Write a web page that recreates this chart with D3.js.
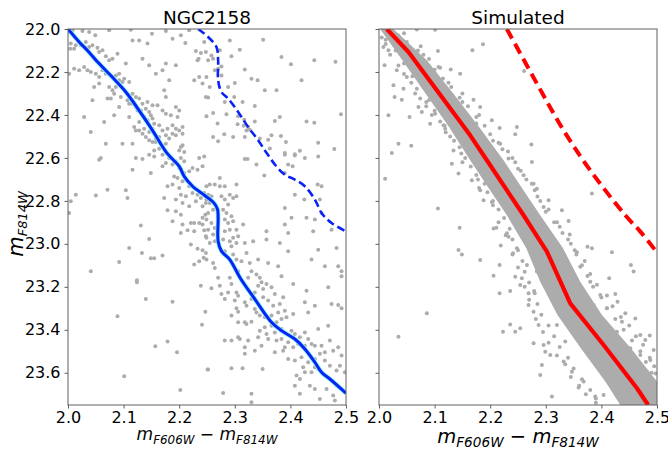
<!DOCTYPE html>
<html><head><meta charset="utf-8">
<script src="https://cdn.jsdelivr.net/npm/d3@7"></script>
<style>
body{margin:0;background:#fff}
text{font-family:"DejaVu Sans",sans-serif;white-space:pre}
</style>
</head><body>
<svg id="c" width="668" height="450"></svg>
<script>
// ---------------- data ----------------
const xTicks = [2.0, 2.1, 2.2, 2.3, 2.4, 2.5];
const yTicks = [22.0, 22.2, 22.4, 22.6, 22.8, 23.0, 23.2, 23.4, 23.6];
const xDomain = [2.0, 2.5];
const yDomain = [22.0, 23.75];
const titles = ["NGC2158", "Simulated"];

// observed fiducial (single stars)
const obsFidColor = [2.000,2.020,2.035,2.056,2.080,2.104,2.134,2.152,2.178,2.200,2.209,2.224,2.246,2.262,2.269,2.270,2.270,2.276,2.291,2.310,2.336,2.366,2.384,2.408,2.426,2.444,2.456,2.471,2.500];
const obsFidMag   = [22.000,22.060,22.100,22.161,22.225,22.293,22.402,22.472,22.578,22.639,22.686,22.732,22.775,22.808,22.840,22.880,22.988,23.034,23.073,23.160,23.257,23.365,23.404,23.443,23.489,23.551,23.598,23.629,23.695];
// observed equal-mass binary sequence
const obsBinColor = [2.234,2.252,2.267,2.270,2.270,2.276,2.288,2.306,2.324,2.342,2.358,2.375,2.390,2.408,2.426,2.444,2.456,2.474,2.500];
const obsBinMag   = [22.000,22.037,22.084,22.146,22.239,22.293,22.324,22.386,22.456,22.518,22.580,22.640,22.678,22.701,22.732,22.794,22.856,22.903,22.942];
// simulated fiducial
const simFidColor = [2.014,2.053,2.104,2.164,2.194,2.260,2.302,2.344,2.404,2.464,2.484];
const simFidMag   = [22.000,22.107,22.285,22.495,22.611,22.867,23.036,23.277,23.471,23.672,23.750];
// simulated binary sequence
const simBinColor = [2.230,2.284,2.332,2.380,2.443,2.470,2.500];
const simBinMag   = [22.000,22.254,22.472,22.658,22.867,22.943,23.040];
// simulated dense core (edges of the solid band)
const simBandMag  = [22.000,22.146,22.301,22.456,22.611,22.767,22.867,23.021,23.176,23.331,23.486,23.641,23.750];
const simBandBlue = [2.002,2.042,2.084,2.126,2.164,2.204,2.230,2.265,2.290,2.321,2.363,2.407,2.434];
const simBandRed  = [2.026,2.086,2.134,2.180,2.224,2.264,2.290,2.331,2.362,2.401,2.453,2.500,2.500];

// observed stars [colour, magnitude]
const obsStars = [
[2.002,22.014],[2.008,22.006],[2.026,22.009],[2.038,22.014],[2.049,22.029],[2.074,22.006],[2.113,22.003],[2.151,22.022],[2.176,22.009],[2.188,22.045],[2.211,22.065],[2.230,22.102],[2.239,22.112],[2.245,22.061],[2.248,22.107],[2.235,22.138],
[2.005,22.068],[2.004,22.092],[2.011,22.092],[2.014,22.076],[2.023,22.076],[2.029,22.084],[2.032,22.061],[2.038,22.084],[2.044,22.076],[2.053,22.087],[2.056,22.107],[2.062,22.099],[2.068,22.127],[2.074,22.146],[2.080,22.138],[2.089,22.115],[2.104,22.161],[2.134,22.138],[2.116,22.053],[2.128,22.053],[2.143,22.068],[2.203,22.029],[2.218,22.006],[2.233,22.146],[2.236,22.223],[2.242,22.254],[2.227,22.239],[2.248,22.316],
[2.011,22.185],[2.020,22.192],[2.002,22.208],[2.029,22.177],[2.035,22.192],[2.041,22.200],[2.050,22.208],[2.056,22.223],[2.062,22.192],[2.068,22.208],[2.074,22.208],[2.080,22.223],[2.086,22.216],[2.092,22.239],[2.098,22.247],[2.101,22.231],[2.092,22.208],[2.110,22.247],[2.086,22.270],[2.080,22.285],[2.083,22.301],[2.074,22.270],[2.071,22.324],[2.077,22.324],[2.095,22.316],[2.107,22.332],[2.110,22.348],[2.116,22.348],[2.122,22.363],[2.125,22.379],[2.131,22.379],[2.140,22.371],[2.146,22.386],[2.149,22.402],[2.152,22.417],[2.137,22.410],[2.143,22.425],[2.128,22.433],[2.119,22.456],[2.122,22.472],[2.128,22.472],[2.137,22.464],[2.134,22.487],[2.140,22.503],[2.146,22.518],[2.152,22.526],[2.158,22.510],[2.164,22.503],[2.176,22.495],[2.182,22.510],[2.188,22.487],[2.194,22.464],[2.200,22.472],[2.206,22.487],[2.194,22.495],[2.203,22.549],[2.206,22.541],[2.200,22.565],[2.209,22.572],[2.164,22.557],[2.155,22.565],[2.158,22.526],[2.176,22.534],[2.170,22.549],[2.116,22.534],[2.098,22.534],[2.068,22.534],[2.041,22.479],[2.029,22.410],[2.065,22.433],[2.083,22.402],[2.110,22.410],[2.092,22.363],[2.044,22.332],[2.056,22.254],[2.047,22.270],[2.173,22.285],[2.176,22.316],[2.194,22.363],[2.200,22.379],[2.185,22.402],[2.197,22.410],[2.188,22.448],[2.206,22.456],[2.158,22.208],[2.170,22.192],[2.176,22.161],[2.194,22.169],[2.146,22.169],[2.182,22.239],[2.116,22.301],[2.122,22.316],[2.128,22.324],[2.134,22.348],[2.143,22.340],[2.152,22.355],[2.161,22.355],[2.170,22.379],[2.176,22.394],[2.155,22.441],[2.164,22.448],[2.170,22.472],[2.179,22.464],[2.152,22.464],[2.146,22.479],
[2.291,22.053],[2.351,22.050],[2.309,22.096],[2.294,22.127],[2.273,22.099],[2.258,22.123],[2.252,22.146],[2.261,22.138],[2.264,22.192],[2.276,22.174],[2.270,22.185],[2.249,22.223],[2.276,22.216],[2.318,22.189],[2.330,22.231],[2.341,22.239],[2.384,22.130],[2.401,22.164],[2.443,22.146],[2.481,22.152],[2.420,22.239],[2.354,22.285],[2.375,22.285],[2.255,22.270],[2.288,22.270],[2.300,22.251],[2.252,22.319],[2.282,22.340],[2.299,22.316],[2.314,22.340],[2.336,22.358],[2.249,22.406],[2.261,22.391],[2.285,22.397],[2.306,22.406],[2.317,22.422],[2.269,22.440],[2.305,22.443],[2.316,22.450],[2.324,22.456],[2.336,22.431],[2.372,22.428],[2.381,22.409],[2.429,22.431],[2.443,22.436],[2.491,22.397],[2.261,22.503],[2.281,22.490],[2.297,22.503],[2.318,22.503],[2.270,22.523],[2.321,22.472],[2.327,22.469],[2.345,22.510],[2.360,22.515],[2.366,22.495],[2.383,22.498],[2.392,22.526],[2.450,22.530],[2.479,22.558],[2.390,22.577],[2.408,22.583],[2.417,22.567],[2.363,22.556],
[2.059,22.600],[2.056,22.608],[2.122,22.600],[2.134,22.605],[2.146,22.585],[2.155,22.593],[2.170,22.585],[2.182,22.600],[2.116,22.655],[2.149,22.670],[2.170,22.639],[2.176,22.624],[2.188,22.631],[2.194,22.616],[2.203,22.600],[2.209,22.616],[2.200,22.647],[2.209,22.670],[2.218,22.662],[2.224,22.647],[2.233,22.655],[2.242,22.639],[2.236,22.600],[2.245,22.593],[2.191,22.686],[2.197,22.693],[2.206,22.709],[2.179,22.732],[2.188,22.724],[2.200,22.740],[2.218,22.732],[2.224,22.763],[2.233,22.771],[2.239,22.786],[2.245,22.763],[2.203,22.771],[2.212,22.779],[2.194,22.794],[2.206,22.810],[2.218,22.825],[2.230,22.802],[2.242,22.825],[2.248,22.810],[2.014,22.771],[2.005,22.802],[2.002,22.856],[2.050,22.775],[2.071,22.748],[2.104,22.751],[2.107,22.786],[2.173,22.786],[2.179,22.844],[2.194,22.848],[2.188,22.895],[2.206,22.910],[2.203,22.949],[2.221,22.903],[2.227,22.903],[2.236,22.903],[2.242,22.910],[2.215,22.937],[2.227,22.941],[2.245,22.937],[2.248,22.965],[2.131,22.915],[2.146,22.977],[2.221,23.003],[2.233,23.023],[2.242,23.030],[2.248,23.042],[2.244,23.065],[2.236,23.081],[2.227,23.096],[2.110,23.019],[2.133,23.042],[2.149,23.067],[2.155,23.067],[2.170,23.054],[2.092,23.085],[2.041,23.127],[2.124,23.169],[2.247,22.864],[2.242,22.879],[2.203,22.864],
[2.318,22.605],[2.323,22.605],[2.339,22.631],[2.353,22.682],[2.390,22.585],[2.396,22.631],[2.404,22.639],[2.390,22.670],[2.408,22.589],[2.426,22.600],[2.450,22.593],[2.249,22.732],[2.255,22.724],[2.264,22.724],[2.273,22.732],[2.282,22.732],[2.303,22.724],[2.273,22.693],[2.252,22.771],[2.258,22.779],[2.249,22.794],[2.255,22.810],[2.276,22.779],[2.282,22.794],[2.291,22.771],[2.297,22.786],[2.303,22.779],[2.288,22.817],[2.279,22.841],[2.285,22.856],[2.294,22.872],[2.282,22.887],[2.288,22.903],[2.297,22.895],[2.261,22.841],[2.252,22.856],[2.249,22.887],[2.258,22.903],[2.264,22.926],[2.252,22.934],[2.261,22.957],[2.249,22.972],[2.255,22.996],[2.264,22.988],[2.282,22.941],[2.291,22.934],[2.303,22.934],[2.306,22.965],[2.297,22.972],[2.315,22.910],[2.279,22.980],[2.291,22.988],[2.294,23.011],[2.303,22.996],[2.282,23.034],[2.285,23.058],[2.297,23.050],[2.303,23.073],[2.312,23.081],[2.321,23.042],[2.318,22.996],[2.333,22.988],[2.357,22.941],[2.357,22.980],[2.381,22.996],[2.396,23.034],[2.360,23.089],[2.378,23.104],[2.384,23.151],[2.339,23.143],[2.345,23.158],[2.324,23.158],[2.261,23.089],[2.264,23.112],[2.249,23.073],[2.270,23.158],[2.291,23.158],[2.306,23.127],[2.327,23.089],[2.342,23.073],[2.330,23.127],[2.390,22.833],[2.408,22.771],[2.425,22.794],[2.449,22.724],[2.456,22.732],[2.453,22.794],[2.456,22.856],[2.444,22.887],[2.429,22.879],[2.441,22.941],[2.402,22.879],[2.390,22.910],[2.396,22.949],[2.474,22.934],[2.483,23.019],[2.462,23.104],[2.486,23.104],[2.492,23.127],[2.438,23.073],[2.450,23.027],[2.492,23.151],
[2.124,23.179],[2.140,23.257],[2.188,23.269],[2.239,23.195],[2.247,23.316],[2.241,23.376],[2.089,23.337],[2.179,23.455],[2.157,23.477],[2.196,23.505],[2.101,23.616],[2.202,23.680],[2.251,23.585],
[2.258,23.207],[2.273,23.195],[2.276,23.233],[2.288,23.226],[2.294,23.187],[2.303,23.226],[2.306,23.241],[2.282,23.257],[2.300,23.264],[2.318,23.272],[2.321,23.288],[2.330,23.257],[2.336,23.226],[2.342,23.195],[2.348,23.179],[2.351,23.210],[2.357,23.187],[2.366,23.202],[2.372,23.233],[2.351,23.249],[2.360,23.264],[2.369,23.288],[2.381,23.280],[2.387,23.249],[2.405,23.187],[2.390,23.311],[2.336,23.303],[2.339,23.319],[2.345,23.334],[2.354,23.342],[2.366,23.334],[2.378,23.319],[2.375,23.365],[2.384,23.350],[2.393,23.342],[2.405,23.326],[2.366,23.381],[2.354,23.388],[2.345,23.404],[2.357,23.419],[2.372,23.412],[2.384,23.396],[2.402,23.404],[2.408,23.419],[2.417,23.435],[2.426,23.412],[2.432,23.443],[2.438,23.466],[2.444,23.474],[2.426,23.474],[2.414,23.466],[2.405,23.481],[2.396,23.458],[2.384,23.443],[2.390,23.481],[2.375,23.450],[2.360,23.443],[2.342,23.435],[2.324,23.450],[2.309,23.443],[2.294,23.450],[2.321,23.373],[2.306,23.365],[2.318,23.365],[2.330,23.362],[2.303,23.300],[2.306,23.316],[2.294,23.334],[2.468,23.202],[2.474,23.280],[2.486,23.285],[2.492,23.300],[2.429,23.218],[2.426,23.272],[2.444,23.288],[2.432,23.319],[2.450,23.396],[2.468,23.381],[2.471,23.450],[2.486,23.481],[2.477,23.497],[2.492,23.520],[2.489,23.567],[2.498,23.598],[2.483,23.590],[2.471,23.567],[2.462,23.543],[2.453,23.512],[2.444,23.536],[2.456,23.474],[2.462,23.505],[2.450,23.582],[2.462,23.613],[2.474,23.636],[2.483,23.660],[2.492,23.675],[2.477,23.706],[2.465,23.675],[2.453,23.722],[2.444,23.675],[2.435,23.660],[2.426,23.598],[2.417,23.629],[2.411,23.613],[2.408,23.543],[2.420,23.528],[2.432,23.551],[2.444,23.574],[2.438,23.598],[2.423,23.574],[2.408,23.660],[2.417,23.698],[2.387,23.497],[2.318,23.481],[2.318,23.512],[2.252,23.585],[2.294,23.579],[2.314,23.579],[2.350,23.582],[2.279,23.694],[2.330,23.698],[2.330,23.737],[2.396,23.536],[2.372,23.505],[2.336,23.497],[2.348,23.474],[2.306,23.435],[2.282,23.450],[2.480,23.729]
];

// simulated stars outside / on the fringe of the dense core [colour, magnitude]
const simStars = [
[2.101,22.003],[2.068,22.002],[2.187,22.071],[2.168,22.099],[2.106,22.102],[2.261,22.195],[2.010,22.169],[2.026,22.262],[2.028,22.316],[2.041,22.329],[2.017,22.402],[2.055,22.410],[2.071,22.363],[2.092,22.441],[2.035,22.534],[2.058,22.543],[2.023,22.577],[2.011,22.697],[2.106,22.836],[2.383,22.766],[2.274,22.537],[2.245,22.490],[2.217,22.461],[2.203,22.425],[2.182,22.363],[2.170,22.329],[2.146,22.208],[2.129,22.189],[2.107,22.177],[2.089,22.231],[2.077,22.386],[2.074,22.324],[2.119,22.464],[2.131,22.627],[2.143,22.673],[2.167,22.704],[2.182,22.751],[2.188,22.797],[2.203,22.805],[2.275,22.619],[2.284,22.743],[2.305,22.797],[2.329,22.844],[2.248,22.456],[2.296,22.828],[2.278,22.720],[2.260,22.681],[2.233,22.603],[2.218,22.534],[2.182,22.565],[2.152,22.518],[2.134,22.565],[2.116,22.448],[2.101,22.394],[2.085,22.340],[2.068,22.278],[2.050,22.223],[2.032,22.192],[2.017,22.099],[2.008,22.084],[2.044,22.278],[2.056,22.146],
[2.145,22.925],[2.143,23.029],[2.149,23.049],[2.182,23.075],[2.206,22.928],[2.211,22.925],[2.219,23.008],[2.230,22.951],[2.233,22.967],[2.241,23.044],[2.217,23.098],[2.206,23.148],[2.217,23.230],[2.236,23.219],[2.223,23.409],[2.236,23.375],[2.245,23.153],[2.254,23.191],[2.257,23.160],[2.269,23.230],[2.279,23.219],[2.287,23.378],[2.278,23.463],[2.296,23.471],[2.299,23.502],[2.308,23.517],[2.293,23.564],[2.290,23.610],[2.311,23.711],[2.359,23.669],[2.389,23.711],[2.320,22.900],[2.341,22.894],[2.343,22.956],[2.356,23.039],[2.375,23.013],[2.383,23.021],[2.419,23.039],[2.453,23.098],[2.458,23.129],[2.414,23.160],[2.425,23.233],[2.429,23.269],[2.443,23.323],[2.437,23.362],[2.461,23.347],[2.470,23.424],[2.487,23.427],[2.479,23.447],[2.488,23.540],[2.494,23.494],[2.497,23.603],[2.086,23.323],[2.035,23.432],[2.245,23.409],[2.254,23.393],[2.332,23.548],[2.347,23.595],[2.368,23.641],[2.404,23.703],[2.335,23.455],[2.320,23.378],[2.278,23.316],[2.269,23.285],[2.284,23.129],[2.266,23.098],[2.248,23.021],[2.362,23.106],[2.380,23.176],[2.398,23.238],[2.410,23.300],[2.428,23.409],[2.452,23.486],[2.470,23.517],[2.482,23.595],[2.392,23.362],[2.386,23.285],
[2.005,22.040],[2.012,22.070],[2.020,22.120],[2.035,22.170],[2.045,22.210],[2.058,22.250],[2.065,22.300],[2.085,22.360],[2.095,22.400],[2.110,22.430],[2.120,22.480],[2.135,22.520],[2.145,22.550],[2.155,22.600],[2.165,22.640],[2.175,22.680],[2.190,22.720],[2.195,22.760],[2.205,22.800],[2.215,22.840],[2.225,22.880],[2.235,22.930],[2.240,22.980],[2.250,23.030],[2.258,23.080],[2.262,23.130],[2.270,23.180],[2.280,23.230],[2.285,23.280],[2.292,23.330],[2.305,23.380],[2.315,23.430],[2.325,23.480],[2.340,23.530],[2.350,23.580],[2.365,23.630],[2.380,23.680],[2.390,23.720],
[2.035,22.030],[2.050,22.060],[2.070,22.100],[2.090,22.140],[2.100,22.190],[2.115,22.230],[2.130,22.270],[2.145,22.320],[2.160,22.360],[2.175,22.410],[2.190,22.450],[2.200,22.490],[2.215,22.530],[2.232,22.570],[2.245,22.620],[2.255,22.660],[2.265,22.700],[2.280,22.750],[2.290,22.800],[2.300,22.850],[2.315,22.900],[2.330,22.950],[2.345,23.000],[2.355,23.050],[2.365,23.100],[2.375,23.150],[2.385,23.200],[2.400,23.250],[2.410,23.300],[2.425,23.350],[2.440,23.400],[2.455,23.450],[2.470,23.500],[2.480,23.550],[2.490,23.600],[2.495,23.650],
[2.012,22.05],[2.030,22.10],[2.045,22.16],[2.060,22.22],[2.080,22.27],[2.090,22.33],[2.100,22.38],[2.118,22.45],[2.128,22.50],[2.148,22.58],[2.150,22.62],[2.178,22.70],[2.180,22.74],[2.205,22.82],[2.215,22.90],[2.228,22.96],[2.240,23.05],[2.250,23.11],[2.262,23.20],[2.270,23.26],[2.282,23.35],[2.295,23.41],[2.305,23.46],[2.320,23.52],[2.335,23.56],[2.345,23.62],[2.360,23.66],[2.372,23.70],[2.390,23.74],
[2.045,22.02],[2.075,22.08],[2.080,22.12],[2.110,22.18],[2.125,22.25],[2.150,22.30],[2.150,22.34],[2.180,22.40],[2.175,22.44],[2.205,22.52],[2.222,22.56],[2.240,22.60],[2.250,22.65],[2.275,22.72],[2.285,22.78],[2.305,22.84],[2.325,22.92],[2.340,22.98],[2.352,23.03],[2.370,23.08],[2.380,23.14],[2.392,23.19],[2.410,23.24],[2.420,23.29],[2.435,23.34],[2.450,23.38],[2.462,23.43],[2.475,23.47],[2.487,23.53],[2.495,23.57]
];

// ---------------- drawing ----------------
const svg = d3.select("#c");
const TOP = 29, BOTTOM = 405;
const panels = [
  {x0:68, x1:346, title:titles[0], labels:true, xlabSize:17, xlabY:440},
  {x0:379, x1:657, title:titles[1], labels:false, xlabSize:19.5, xlabY:443}
];
const STAR = "#acacac";
const FRAME = "#606060";

panels.forEach((p, i) => {
  const x = d3.scaleLinear().domain(xDomain).range([p.x0, p.x1]);
  const y = d3.scaleLinear().domain(yDomain).range([TOP, BOTTOM]);
  const clipId = "clip" + i;
  svg.append("clipPath").attr("id", clipId)
    .append("rect").attr("x", p.x0).attr("y", TOP)
    .attr("width", p.x1 - p.x0).attr("height", BOTTOM - TOP);
  const g = svg.append("g").attr("clip-path", `url(#${clipId})`);

  if (i === 0) {
    g.selectAll("circle").data(obsStars).join("circle")
      .attr("cx", d => x(d[0])).attr("cy", d => y(d[1])).attr("r", 2)
      .attr("fill", STAR);
    const fid = d3.line().x(d => x(d[0])).y(d => y(d[1])).curve(d3.curveCatmullRom);
    const fidPts = obsFidColor.map((c, k) => [c, obsFidMag[k]]);
    const binPts = obsBinColor.map((c, k) => [c, obsBinMag[k]]);
    g.append("path").attr("d", fid(fidPts)).attr("fill", "none")
      .attr("stroke", "#7ff6f6").attr("stroke-width", 4.6);
    g.append("path").attr("d", fid(fidPts)).attr("fill", "none")
      .attr("stroke", "#0a22f5").attr("stroke-width", 3);
    g.append("path").attr("d", fid(binPts)).attr("fill", "none")
      .attr("stroke", "#0a22f5").attr("stroke-width", 2.6)
      .attr("stroke-dasharray", "8,4");
  } else {
    const band = d3.area()
      .y(d => y(d.m)).x0(d => x(d.b)).x1(d => x(d.r));
    const bandPts = simBandMag.map((m, k) => ({m, b: simBandBlue[k], r: simBandRed[k]}));
    g.append("path").attr("d", band(bandPts)).attr("fill", STAR);
    g.selectAll("circle").data(simStars).join("circle")
      .attr("cx", d => x(d[0])).attr("cy", d => y(d[1])).attr("r", 2)
      .attr("fill", STAR);
    const line = d3.line().x(d => x(d[0])).y(d => y(d[1]));
    const fidPts = simFidColor.map((c, k) => [c, simFidMag[k]]);
    const binPts = simBinColor.map((c, k) => [c, simBinMag[k]]);
    g.append("path").attr("d", line(fidPts)).attr("fill", "none")
      .attr("stroke", "#ff0000").attr("stroke-width", 4.2).attr("stroke-linejoin", "round");
    g.append("path").attr("d", d3.line().x(d => x(d[0])).y(d => y(d[1])).curve(d3.curveCatmullRom)(binPts))
      .attr("fill", "none")
      .attr("stroke", "#ff0000").attr("stroke-width", 4)
      .attr("stroke-dasharray", "11,6");
  }

  // frame
  svg.append("rect").attr("x", p.x0).attr("y", TOP)
    .attr("width", p.x1 - p.x0).attr("height", BOTTOM - TOP)
    .attr("fill", "none").attr("stroke", FRAME).attr("stroke-width", 1);

  // axes
  const ax = svg.append("g").attr("transform", `translate(0,${BOTTOM})`)
    .call(d3.axisBottom(x).tickValues(xTicks).tickFormat(d3.format(".1f"))
      .tickSize(3.5).tickPadding(3));
  const ay = svg.append("g").attr("transform", `translate(${p.x0},0)`)
    .call(d3.axisLeft(y).tickValues(yTicks)
      .tickFormat(p.labels ? d3.format(".1f") : () => "")
      .tickSize(3.5).tickPadding(4));
  [ax, ay].forEach(a => {
    a.select(".domain").remove();
    a.selectAll(".tick line").attr("stroke", FRAME);
    a.selectAll(".tick text").attr("fill", "#000")
      .style("font-family", "DejaVu Sans").style("font-size", "16px");
  });

  // title
  svg.append("text").attr("x", (p.x0 + p.x1) / 2).attr("y", 24)
    .attr("text-anchor", "middle").attr("font-size", 18.5).text(p.title);

  // x label
  const sub = p.xlabSize * 0.7;
  const sh = p.xlabSize * 0.22;
  const xl = svg.append("text").attr("x", (p.x0 + p.x1) / 2).attr("y", p.xlabY)
    .attr("text-anchor", "middle").attr("font-size", p.xlabSize);
  xl.append("tspan").attr("font-style", "italic").text("m");
  xl.append("tspan").attr("font-style", "italic").attr("font-size", sub).attr("dy", sh).text("F606W");
  xl.append("tspan").attr("dy", -sh).text(" \u2212 ");
  xl.append("tspan").attr("font-style", "italic").text("m");
  xl.append("tspan").attr("font-style", "italic").attr("font-size", sub).attr("dy", sh).text("F814W");
});

// y label
const yl = svg.append("text").attr("transform", "translate(23,224) rotate(-90)")
  .attr("text-anchor", "middle").attr("font-size", 21);
yl.append("tspan").attr("font-style", "italic").text("m");
yl.append("tspan").attr("font-style", "italic").attr("font-size", 13).attr("dy", 4).text("F814W");
</script>
</body></html>
